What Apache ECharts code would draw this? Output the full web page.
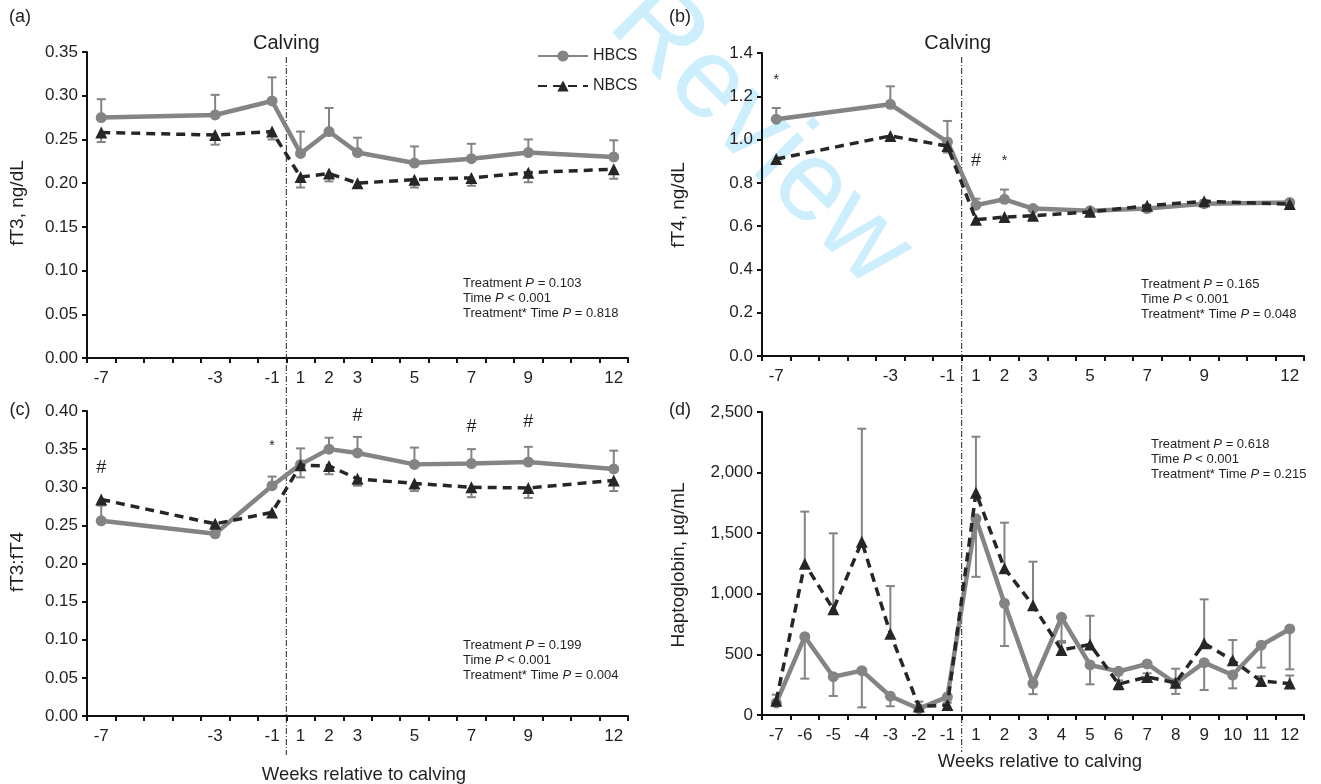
<!DOCTYPE html>
<html>
<head>
<meta charset="utf-8">
<script src="https://cdn.jsdelivr.net/npm/echarts@6/dist/echarts.min.js"></script>
<style>
html,body{margin:0;padding:0;background:#fff;}
#main{width:1321px;height:784px;}
</style>
</head>
<body>
<div id="main"></div>
<script>
// ---------- categories ----------
const weeksAll = ['-7','-6','-5','-4','-3','-2','-1','1','2','3','4','5','6','7','8','9','10','11','12'];
const weeksSampled = ['-7','-3','-1','1','2','3','5','7','9','12'];

// ---------- (a) fT3, ng/dL ----------
const fT3_HBCS = [0.275, 0.278, 0.294, 0.234, 0.259, 0.235, 0.223, 0.228, 0.235, 0.230];
const fT3_HBCS_se = [0.021, 0.023, 0.027, 0.025, 0.027, 0.017, 0.019, 0.017, 0.015, 0.019];
const fT3_NBCS = [0.258, 0.255, 0.259, 0.207, 0.211, 0.200, 0.204, 0.206, 0.212, 0.216];
const fT3_NBCS_se = [0.011, 0.011, 0.009, 0.012, 0.009, 0.005, 0.009, 0.009, 0.011, 0.011];

// ---------- (b) fT4, ng/dL ----------
const fT4_HBCS = [1.094, 1.163, 0.989, 0.697, 0.724, 0.681, 0.671, 0.681, 0.704, 0.709];
const fT4_HBCS_se = [0.052, 0.083, 0.097, 0.030, 0.045, 0.010, 0.010, 0.010, 0.015, 0.012];
const fT4_NBCS = [0.910, 1.017, 0.970, 0.630, 0.642, 0.648, 0.666, 0.694, 0.715, 0.702];
const fT4_NBCS_se = [0.015, 0.020, 0.030, 0.020, 0.015, 0.015, 0.012, 0.012, 0.020, 0.010];

// ---------- (c) fT3:fT4 ----------
const ratio_HBCS = [0.256, 0.239, 0.302, 0.330, 0.350, 0.345, 0.330, 0.331, 0.333, 0.324];
const ratio_HBCS_se = [0.021, 0.010, 0.012, 0.021, 0.015, 0.021, 0.022, 0.019, 0.020, 0.024];
const ratio_NBCS = [0.284, 0.252, 0.267, 0.329, 0.328, 0.311, 0.305, 0.300, 0.299, 0.309];
const ratio_NBCS_se = [0.008, 0.006, 0.006, 0.016, 0.011, 0.009, 0.010, 0.013, 0.013, 0.014];

// ---------- (d) Haptoglobin, µg/mL ----------
const hp_HBCS = [100, 646, 316, 366, 155, 52, 150, 1620, 921, 260, 806, 413, 360, 421, 262, 432, 330, 576, 710];
const hp_HBCS_se = [20, 346, 159, 303, 83, 10, 20, 480, 352, 88, 195, 160, 150, 20, 88, 226, 110, 185, 333];
const hp_NBCS = [118, 1248, 872, 1430, 671, 70, 82, 1834, 1210, 905, 536, 582, 255, 314, 266, 591, 451, 280, 260];
const hp_NBCS_se = [50, 430, 627, 932, 393, 40, 20, 462, 377, 360, 60, 237, 30, 30, 116, 363, 168, 40, 66];

// ---------- significance marks ----------
const marksB = [['-7', 1.275, '*'], ['1', 0.90, '#'], ['2', 0.90, '*']];
const marksC = [['-7', 0.325, '#'], ['-1', 0.354, '*'], ['3', 0.393, '#'], ['7', 0.379, '#'], ['9', 0.386, '#']];

// ---------- statistics text ----------
const statsA = ['0.103', '< 0.001', '0.818'];
const statsB = ['0.165', '< 0.001', '0.048'];
const statsC = ['0.199', '< 0.001', '0.004'];
const statsD = ['0.618', '< 0.001', '0.215'];

const FONT = 'Liberation Sans, Arial, sans-serif';
const TXT = '#231f20';
const GREY = '#848484';
const DARK = '#262626';

const grids = [
  {left: 87, top: 52, width: 541, height: 306},
  {left: 762, top: 53, width: 542, height: 303},
  {left: 87, top: 411, width: 541, height: 305},
  {left: 762, top: 412, width: 542, height: 303}
];

function pairs(cats, vals) { return cats.map((c, i) => [c, vals[i]]); }
function errPairs(cats, vals, se, dir) { return cats.map((c, i) => [c, vals[i], vals[i] + dir * se[i]]); }

function xAxisCfg(idx, showAll) {
  return {
    type: 'category', gridIndex: idx, data: weeksAll, boundaryGap: true,
    axisLine: {lineStyle: {color: '#111', width: 2}},
    axisTick: {show: true, interval: 0, alignWithLabel: false, length: 5, lineStyle: {color: '#111', width: 2}},
    axisLabel: {
      interval: 0, color: TXT, fontFamily: FONT, fontSize: 17, margin: 12,
      formatter: v => (showAll || weeksSampled.indexOf(v) >= 0) ? v : ''
    },
    splitLine: {show: false}
  };
}
function yAxisCfg(idx, max, interval, fmt) {
  return {
    type: 'value', gridIndex: idx, min: 0, max: max, interval: interval,
    axisLine: {show: true, lineStyle: {color: '#111', width: 2}},
    axisTick: {show: true, length: 5, lineStyle: {color: '#111', width: 2}},
    axisLabel: {color: TXT, fontFamily: FONT, fontSize: 17, margin: 9, formatter: fmt},
    splitLine: {show: false}
  };
}

function lineSeries(name, idx, data, isH) {
  return {
    name: name, type: 'line', xAxisIndex: idx, yAxisIndex: idx, data: data,
    connectNulls: true, z: isH ? 3 : 4,
    symbol: isH ? 'circle' : 'triangle', symbolSize: isH ? 11 : 12,
    lineStyle: isH ? {color: GREY, width: 4.5} : {color: DARK, width: 3.5, type: [9, 6]},
    itemStyle: {color: isH ? GREY : DARK},
    emphasis: {disabled: true}, animation: false
  };
}
function errSeries(idx, data) {
  return {
    type: 'custom', xAxisIndex: idx, yAxisIndex: idx, data: data, z: 2, animation: false,
    renderItem: function (params, api) {
      const p1 = api.coord([api.value(0), api.value(1)]);
      const p2 = api.coord([api.value(0), api.value(2)]);
      const hw = 4.5;
      return {
        type: 'group', children: [
          {type: 'line', shape: {x1: p1[0], y1: p1[1], x2: p2[0], y2: p2[1]}, style: {stroke: GREY, lineWidth: 2}},
          {type: 'line', shape: {x1: p2[0] - hw, y1: p2[1], x2: p2[0] + hw, y2: p2[1]}, style: {stroke: GREY, lineWidth: 2}}
        ]
      };
    }
  };
}
function markSeries(idx, marks) {
  return {
    type: 'custom', xAxisIndex: idx, yAxisIndex: idx, data: marks.map(m => [m[0], m[1]]), z: 5, animation: false,
    renderItem: function (params, api) {
      const p = api.coord([api.value(0), api.value(1)]);
      const t = marks[params.dataIndex][2];
      return {type: 'text', x: p[0], y: p[1], style: {text: t, fill: TXT, font: (t === '*' ? '14px ' : '18px ') + FONT, align: 'center', verticalAlign: 'middle'}};
    }
  };
}

const chart = echarts.init(document.getElementById('main'), null, {renderer: 'canvas'});

const option = {
  backgroundColor: '#fff',
  animation: false,
  grid: grids,
  legend: {
    data: ['HBCS', 'NBCS'], orient: 'vertical', left: 532, top: 43,
    itemWidth: 50, itemHeight: 14, itemGap: 14,
    textStyle: {color: TXT, fontFamily: FONT, fontSize: 16}, selectedMode: false
  },
  xAxis: [xAxisCfg(0, false), xAxisCfg(1, false), xAxisCfg(2, false), xAxisCfg(3, true)],
  yAxis: [
    yAxisCfg(0, 0.35, 0.05, v => v.toFixed(2)),
    yAxisCfg(1, 1.4, 0.2, v => v.toFixed(1)),
    yAxisCfg(2, 0.40, 0.05, v => v.toFixed(2)),
    yAxisCfg(3, 2500, 500, v => v.toLocaleString('en-US'))
  ],
  series: [
    errSeries(0, errPairs(weeksSampled, fT3_HBCS, fT3_HBCS_se, 1)),
    errSeries(0, errPairs(weeksSampled, fT3_NBCS, fT3_NBCS_se, -1)),
    lineSeries('HBCS', 0, pairs(weeksSampled, fT3_HBCS), true),
    lineSeries('NBCS', 0, pairs(weeksSampled, fT3_NBCS), false),

    errSeries(1, errPairs(weeksSampled, fT4_HBCS, fT4_HBCS_se, 1)),
    errSeries(1, errPairs(weeksSampled, fT4_NBCS, fT4_NBCS_se, -1)),
    lineSeries('HBCS', 1, pairs(weeksSampled, fT4_HBCS), true),
    lineSeries('NBCS', 1, pairs(weeksSampled, fT4_NBCS), false),
    markSeries(1, marksB),

    errSeries(2, errPairs(weeksSampled, ratio_HBCS, ratio_HBCS_se, 1)),
    errSeries(2, errPairs(weeksSampled, ratio_NBCS, ratio_NBCS_se, -1)),
    lineSeries('HBCS', 2, pairs(weeksSampled, ratio_HBCS), true),
    lineSeries('NBCS', 2, pairs(weeksSampled, ratio_NBCS), false),
    markSeries(2, marksC),

    errSeries(3, errPairs(weeksAll, hp_HBCS, hp_HBCS_se, -1)),
    errSeries(3, errPairs(weeksAll, hp_NBCS, hp_NBCS_se, 1)),
    lineSeries('HBCS', 3, pairs(weeksAll, hp_HBCS), true),
    lineSeries('NBCS', 3, pairs(weeksAll, hp_NBCS), false)
  ]
};
chart.setOption(option);

// ---------- annotations (positions derived from axes where tied to data) ----------
function calvingX(idx) {
  const a = chart.convertToPixel({xAxisIndex: idx}, '-1');
  const b = chart.convertToPixel({xAxisIndex: idx}, '1');
  return (a + b) / 2;
}
function statsText(x, y, vals) {
  return {
    type: 'text', left: x, top: y, z: 10,
    style: {
      text: '{a|Treatment }{i|P}{a| = ' + vals[0] + '}\n{a|Time }{i|P}{a| ' + vals[1] + '}\n{a|Treatment* Time }{i|P}{a| = ' + vals[2] + '}',
      rich: {
        a: {fontFamily: FONT, fontSize: 13, fill: TXT, lineHeight: 15},
        i: {fontFamily: FONT, fontSize: 13, fontStyle: 'italic', fill: TXT, lineHeight: 15}
      }
    }
  };
}
function label(x, y, t, size, rot) {
  return {type: 'text', x: x, y: y, rotation: rot || 0, z: 10,
    style: {text: t, fill: TXT, font: size + 'px ' + FONT, align: 'center', verticalAlign: 'middle'}};
}
const cx1 = calvingX(0), cx2 = calvingX(1);
const dash = {stroke: '#222', lineWidth: 1, lineDash: [6, 2, 1, 2]};

chart.setOption({
  graphic: [
    {type: 'text', x: 628, y: 4, rotation: -45 * Math.PI / 180, z: 0, silent: true,
      style: {text: 'Review', fill: '#cdeefc', font: '114px ' + FONT, align: 'left', verticalAlign: 'middle'}},
    {type: 'line', shape: {x1: cx1, y1: 57, x2: cx1, y2: 755}, style: dash, z: 1},
    {type: 'line', shape: {x1: cx2, y1: 57, x2: cx2, y2: 752}, style: dash, z: 1},
    label(20, 17, '(a)', 18), label(680, 17, '(b)', 18),
    label(20, 410, '(c)', 18), label(680, 410, '(d)', 18),
    label(cx1, 43, 'Calving', 20), label(cx2 - 4, 43, 'Calving', 20),
    label(18, 203, 'fT3, ng/dL', 19, Math.PI / 2),
    label(679, 205, 'fT4, ng/dL', 19, Math.PI / 2),
    label(18, 562, 'fT3:fT4', 19, Math.PI / 2),
    label(679, 565, 'Haptoglobin, µg/mL', 19, Math.PI / 2),
    label(364, 775, 'Weeks relative to calving', 18.5),
    label(1040, 762, 'Weeks relative to calving', 18.5),
    statsText(463, 277, statsA),
    statsText(1141, 278, statsB),
    statsText(463, 639, statsC),
    statsText(1151, 438, statsD)
  ]
});
</script>
</body>
</html>
